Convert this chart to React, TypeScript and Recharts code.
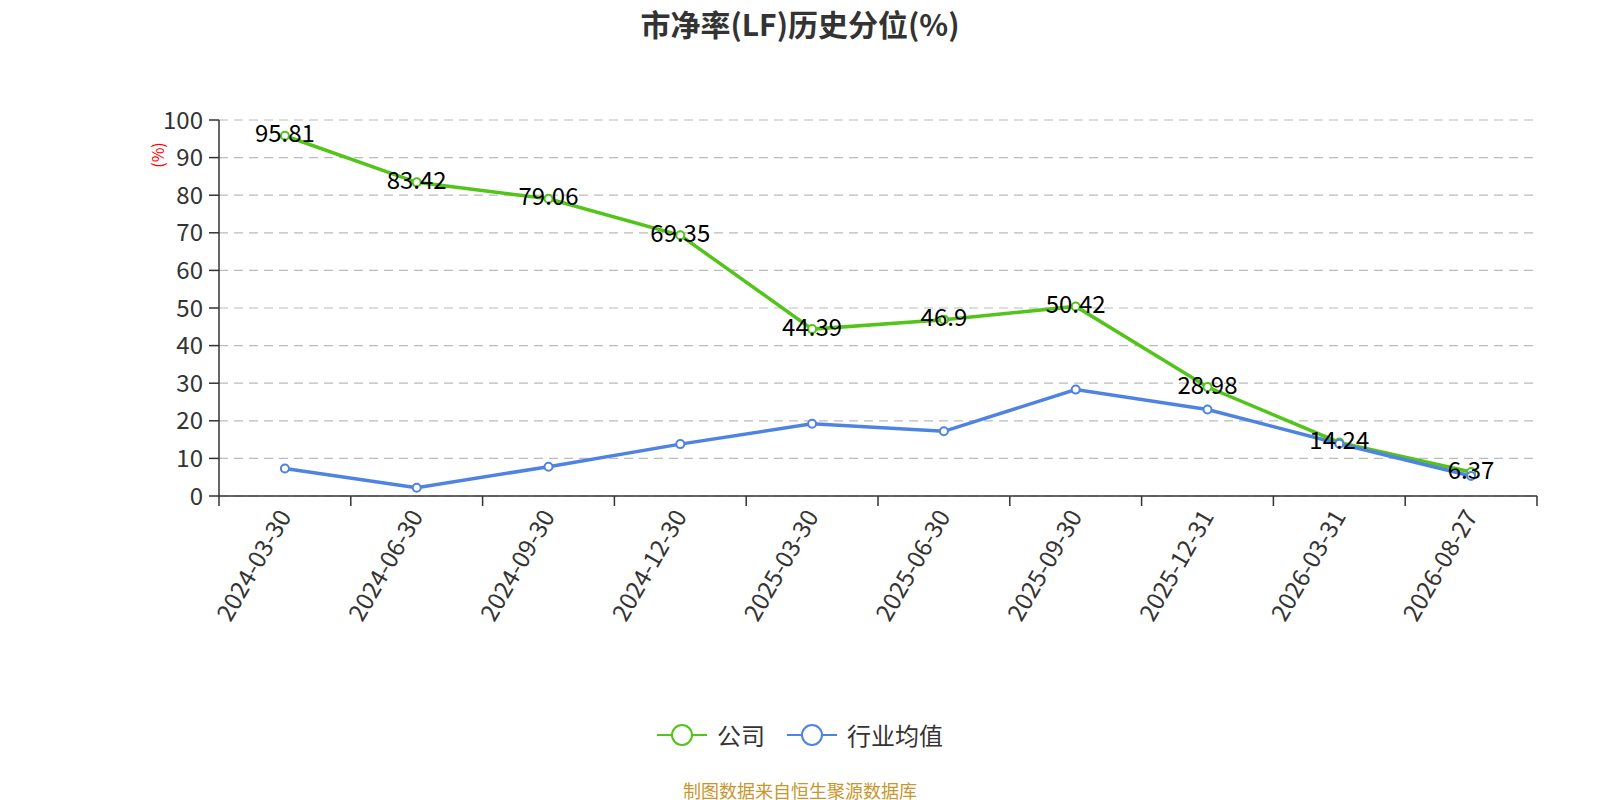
import React from 'react';
import { LineChart, Line, XAxis, YAxis, CartesianGrid, LabelList, Label } from 'recharts';

const dates = [
  '2024-03-30', '2024-06-30', '2024-09-30', '2024-12-30', '2025-03-30',
  '2025-06-30', '2025-09-30', '2025-12-31', '2026-03-31', '2026-08-27',
];
const company = [95.81, 83.42, 79.06, 69.35, 44.39, 46.9, 50.42, 28.98, 14.24, 6.37];
const industry = [7.3, 2.2, 7.8, 13.8, 19.2, 17.2, 28.3, 23.0, 13.9, 5.3];
const yTicks = [0, 10, 20, 30, 40, 50, 60, 70, 80, 90, 100];

const seriesNames = ['公司', '行业均值'];
const seriesColors = ['#52c41a', '#4f83e3'];

const data = dates.map((date, i) => ({ date, company: company[i], industry: industry[i] }));

const W = 1600;
const H = 800;
const margin = { top: 120, right: 63, left: 0, bottom: 0 };
const yAxisWidth = 219;
const xAxisHeight = 304;
const bandWidth = (W - margin.left - margin.right - yAxisWidth) / dates.length;
const font = '"Noto Sans CJK SC", "Noto Sans", sans-serif';

const XTick = (props: any) => {
  const { x, y, payload, index } = props;
  const axisY = y - 12;
  const left = x - bandWidth / 2;
  return (
    <g>
      <line x1={left} y1={axisY} x2={left} y2={axisY + 10} stroke='#333' strokeWidth={1.5} />
      {index === dates.length - 1 && (
        <line x1={x + bandWidth / 2} y1={axisY} x2={x + bandWidth / 2} y2={axisY + 10} stroke='#333' strokeWidth={1.5} />
      )}
      <text
        x={x}
        y={axisY + 16}
        dy='0.35em'
        textAnchor='end'
        fontSize={24}
        fill='#333'
        fontFamily={font}
        transform={`rotate(-60 ${x} ${axisY + 16})`}
      >
        {payload.value}
      </text>
    </g>
  );
};

const PointLabel = (props: any) => {
  const { x, y, value } = props;
  return (
    <text x={x} y={y - 4} textAnchor='middle' dominantBaseline='central' fontSize={24} fill='#000' fontFamily={font}>
      {value}
    </text>
  );
};

export default function App() {
  return (
    <div style={{ position: 'absolute', left: 0, top: 0, width: W, height: H, background: '#fff', fontFamily: font }}>
      <div style={{ position: 'absolute', top: 8, width: W, textAlign: 'center', fontSize: 30, lineHeight: '30px', fontWeight: 'bold', color: '#333' }}>
        市净率(LF)历史分位(%)
      </div>
      <LineChart width={W} height={H} data={data} margin={margin}>
        <CartesianGrid vertical={false} stroke='#bbb' strokeWidth={1.2} strokeDasharray='9 6' />
        <XAxis
          dataKey='date'
          type='category'
          scale='band'
          height={xAxisHeight}
          interval={0}
          tickLine={false}
          tickSize={10}
          tickMargin={2}
          axisLine={{ stroke: '#333', strokeWidth: 1.5 }}
          tick={<XTick />}
        />
        <YAxis
          width={yAxisWidth}
          domain={[0, 100]}
          ticks={yTicks}
          interval={0}
          tickSize={10}
          tickMargin={6}
          axisLine={{ stroke: '#333', strokeWidth: 1.5 }}
          tickLine={{ stroke: '#333', strokeWidth: 1.5 }}
          tick={{ fontSize: 24, fill: '#333', fontFamily: font }}
        >
          <Label
            content={(p: any) => {
              const vb = p.viewBox || { x: 0, y: 0, width: yAxisWidth };
              const cx = vb.x + vb.width - 62;
              const cy = vb.y + 35;
              return (
                <text x={cx} y={cy} textAnchor='middle' dominantBaseline='central' fontSize={16} fill='red'
                  fontFamily={font} transform={`rotate(-90 ${cx} ${cy})`}>
                  (%)
                </text>
              );
            }}
          />
        </YAxis>
        <Line
          type='linear'
          dataKey='company'
          name={seriesNames[0]}
          stroke={seriesColors[0]}
          strokeWidth={3.5}
          dot={{ r: 4, fill: '#fff', stroke: seriesColors[0], strokeWidth: 2 }}
          activeDot={false}
          isAnimationActive={false}
        >
          <LabelList dataKey='company' content={<PointLabel />} />
        </Line>
        <Line
          type='linear'
          dataKey='industry'
          name={seriesNames[1]}
          stroke={seriesColors[1]}
          strokeWidth={3.5}
          dot={{ r: 4, fill: '#fff', stroke: seriesColors[1], strokeWidth: 2 }}
          activeDot={false}
          isAnimationActive={false}
        />
      </LineChart>
      <div style={{ position: 'absolute', top: 717, width: W, display: 'flex', justifyContent: 'center', gap: 22 }}>
        {seriesNames.map((name, i) => (
          <div key={name} style={{ display: 'flex', alignItems: 'center', gap: 10 }}>
            <svg width={50} height={32}>
              <line x1={0} y1={16} x2={50} y2={16} stroke={seriesColors[i]} strokeWidth={2} />
              <circle cx={25} cy={16} r={10} fill='#fff' stroke={seriesColors[i]} strokeWidth={2} />
            </svg>
            <span style={{ fontSize: 24, color: '#333' }}>{name}</span>
          </div>
        ))}
      </div>
      <div style={{ position: 'absolute', top: 781, width: W, textAlign: 'center', fontSize: 18, lineHeight: '18px', color: '#c9962b' }}>
        制图数据来自恒生聚源数据库
      </div>
    </div>
  );
}
